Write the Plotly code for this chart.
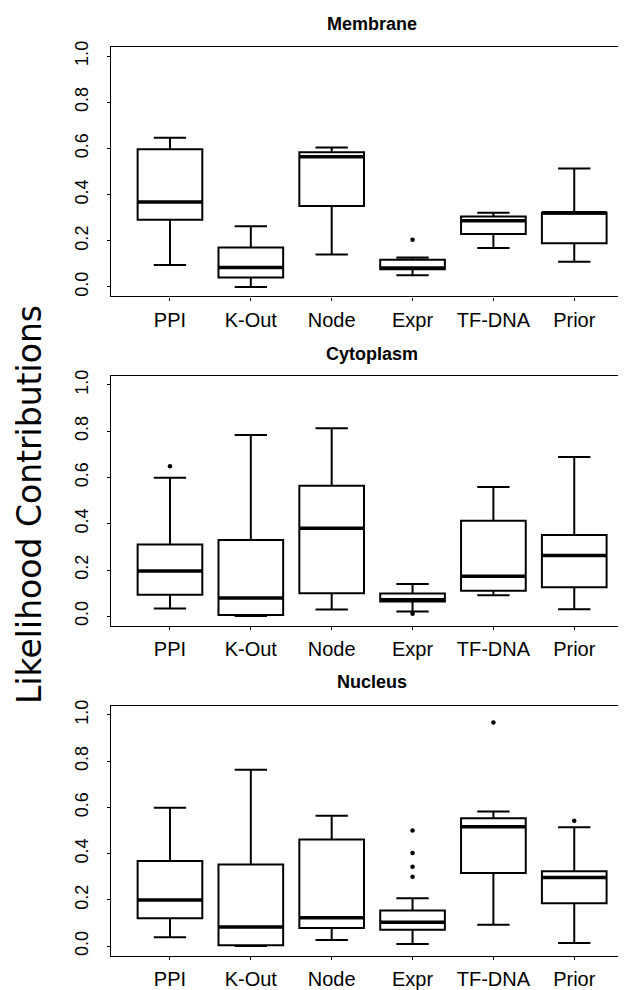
import plotly.graph_objects as go

categories = ["PPI", "K-Out", "Node", "Expr", "TF-DNA", "Prior"]
panel_titles = ["Membrane", "Cytoplasm", "Nucleus"]
y_ticks = [0.0, 0.2, 0.4, 0.6, 0.8, 1.0]
y_tick_labels = ["0.0", "0.2", "0.4", "0.6", "0.8", "1.0"]
y_title = "Likelihood Contributions"

# Membrane
mem_low = [0.095, 0.0, 0.141, 0.051, 0.169, 0.109]
mem_q1 = [0.291, 0.041, 0.351, 0.077, 0.229, 0.189]
mem_med = [0.368, 0.084, 0.564, 0.082, 0.287, 0.322]
mem_q3 = [0.596, 0.171, 0.584, 0.118, 0.305, 0.322]
mem_high = [0.646, 0.263, 0.604, 0.128, 0.322, 0.513]
mem_out_x = ["Expr"]
mem_out_y = [0.205]

# Cytoplasm
cyt_low = [0.034, 0.001, 0.029, 0.021, 0.091, 0.030]
cyt_q1 = [0.093, 0.006, 0.100, 0.064, 0.110, 0.126]
cyt_med = [0.196, 0.079, 0.381, 0.071, 0.173, 0.263]
cyt_q3 = [0.310, 0.330, 0.564, 0.099, 0.413, 0.351]
cyt_high = [0.599, 0.784, 0.813, 0.140, 0.559, 0.689]
cyt_out_x = ["PPI", "Expr"]
cyt_out_y = [0.649, 0.011]

# Nucleus
nuc_low = [0.039, 0.001, 0.027, 0.009, 0.093, 0.014]
nuc_q1 = [0.121, 0.004, 0.079, 0.071, 0.317, 0.186]
nuc_med = [0.200, 0.083, 0.123, 0.104, 0.517, 0.297]
nuc_q3 = [0.369, 0.353, 0.461, 0.154, 0.553, 0.324]
nuc_high = [0.599, 0.763, 0.564, 0.207, 0.583, 0.514]
nuc_out_x = ["Expr", "Expr", "Expr", "Expr", "TF-DNA", "Prior"]
nuc_out_y = [0.500, 0.403, 0.344, 0.300, 0.967, 0.543]

panels = [
    (mem_low, mem_q1, mem_med, mem_q3, mem_high, mem_out_x, mem_out_y),
    (cyt_low, cyt_q1, cyt_med, cyt_q3, cyt_high, cyt_out_x, cyt_out_y),
    (nuc_low, nuc_q1, nuc_med, nuc_q3, nuc_high, nuc_out_x, nuc_out_y),
]

# The page body has an 8px default margin, so the figure is made 8px
# smaller and all window-pixel positions are shifted by that margin.
PAGE_MARGIN = 8
WIN_W, WIN_H = 626, 990
W, H = WIN_W - PAGE_MARGIN, WIN_H - PAGE_MARGIN


def fx(px):
    return (px - PAGE_MARGIN) / W


def fy(py):
    return 1 - (py - PAGE_MARGIN) / H


# panel plot-area window-pixel extents (top, bottom)
panel_px = [(41, 293.3), (373.3, 626), (706.7, 959.3)]
title_px = [17.7, 351.7, 683.3]
left_px = 110.7

pos = {c: i + 1 for i, c in enumerate(categories)}
xpos = [pos[c] for c in categories]
BOXW = 0.8
FONT = "Liberation Sans, Arial, sans-serif"

fig = go.Figure()
layout = dict(
    width=W, height=H, margin=dict(l=0, r=0, t=0, b=0),
    plot_bgcolor="white", paper_bgcolor="white", showlegend=False,
    font=dict(family=FONT, color="black"),
)
annotations = []
for k, (low, q1, med, q3, high, ox, oy) in enumerate(panels):
    xa = "x" if k == 0 else f"x{k+1}"
    ya = "y" if k == 0 else f"y{k+1}"
    fig.add_trace(go.Box(
        x=xpos, q1=q1, median=med, q3=q3, lowerfence=low, upperfence=high,
        width=BOXW, whiskerwidth=0.5, fillcolor="white",
        line=dict(color="black", width=2), boxpoints=False,
        xaxis=xa, yaxis=ya, hoverinfo="skip",
    ))
    mx, my = [], []
    for c, m in zip(categories, med):
        p = pos[c]
        mx += [p - BOXW / 2, p + BOXW / 2, None]
        my += [m, m, None]
    fig.add_trace(go.Scatter(x=mx, y=my, mode="lines",
                             line=dict(color="black", width=3.5),
                             xaxis=xa, yaxis=ya, hoverinfo="skip"))
    fig.add_trace(go.Scatter(x=[pos[c] for c in ox], y=oy, mode="markers",
                             marker=dict(color="black", size=4.5),
                             xaxis=xa, yaxis=ya, hoverinfo="skip"))
    top, bot = panel_px[k]
    xkey = "xaxis" if k == 0 else f"xaxis{k+1}"
    ykey = "yaxis" if k == 0 else f"yaxis{k+1}"
    layout[xkey] = dict(
        domain=[fx(left_px), 1], range=[0.267, 6.64], anchor=ya,
        tickmode="array", tickvals=xpos, ticktext=categories,
        ticks="outside", ticklen=3, tickcolor="black", tickwidth=1,
        showline=True, linecolor="black", linewidth=1.3, mirror=True,
        showgrid=False, zeroline=False,
        tickfont=dict(size=20, family=FONT),
        ticklabelstandoff=2,
    )
    layout[ykey] = dict(
        domain=[fy(bot), fy(top)], range=[-0.0407, 1.0407], anchor=xa,
        tickmode="array", tickvals=y_ticks, ticktext=y_tick_labels,
        ticks="outside", ticklen=3, tickcolor="black", tickwidth=1,
        showline=True, linecolor="black", linewidth=1.3, mirror=False,
        showgrid=False, zeroline=False, tickangle=-90,
        tickfont=dict(size=18, family=FONT),
        ticklabelstandoff=11,
    )
    annotations.append(dict(
        text=f"<b>{panel_titles[k]}</b>", xref="paper", yref="paper",
        x=fx(371.7), y=fy(title_px[k]), xanchor="center", yanchor="middle",
        showarrow=False, font=dict(size=18, family=FONT),
    ))

annotations.append(dict(
    text=y_title, xref="paper", yref="paper", x=fx(30), y=fy(504),
    xanchor="center", yanchor="middle", textangle=-90, showarrow=False,
    font=dict(size=33, family="DejaVu Sans, sans-serif"),
))
layout["annotations"] = annotations
fig.update_layout(**layout)
fig.write_html("out.html")
